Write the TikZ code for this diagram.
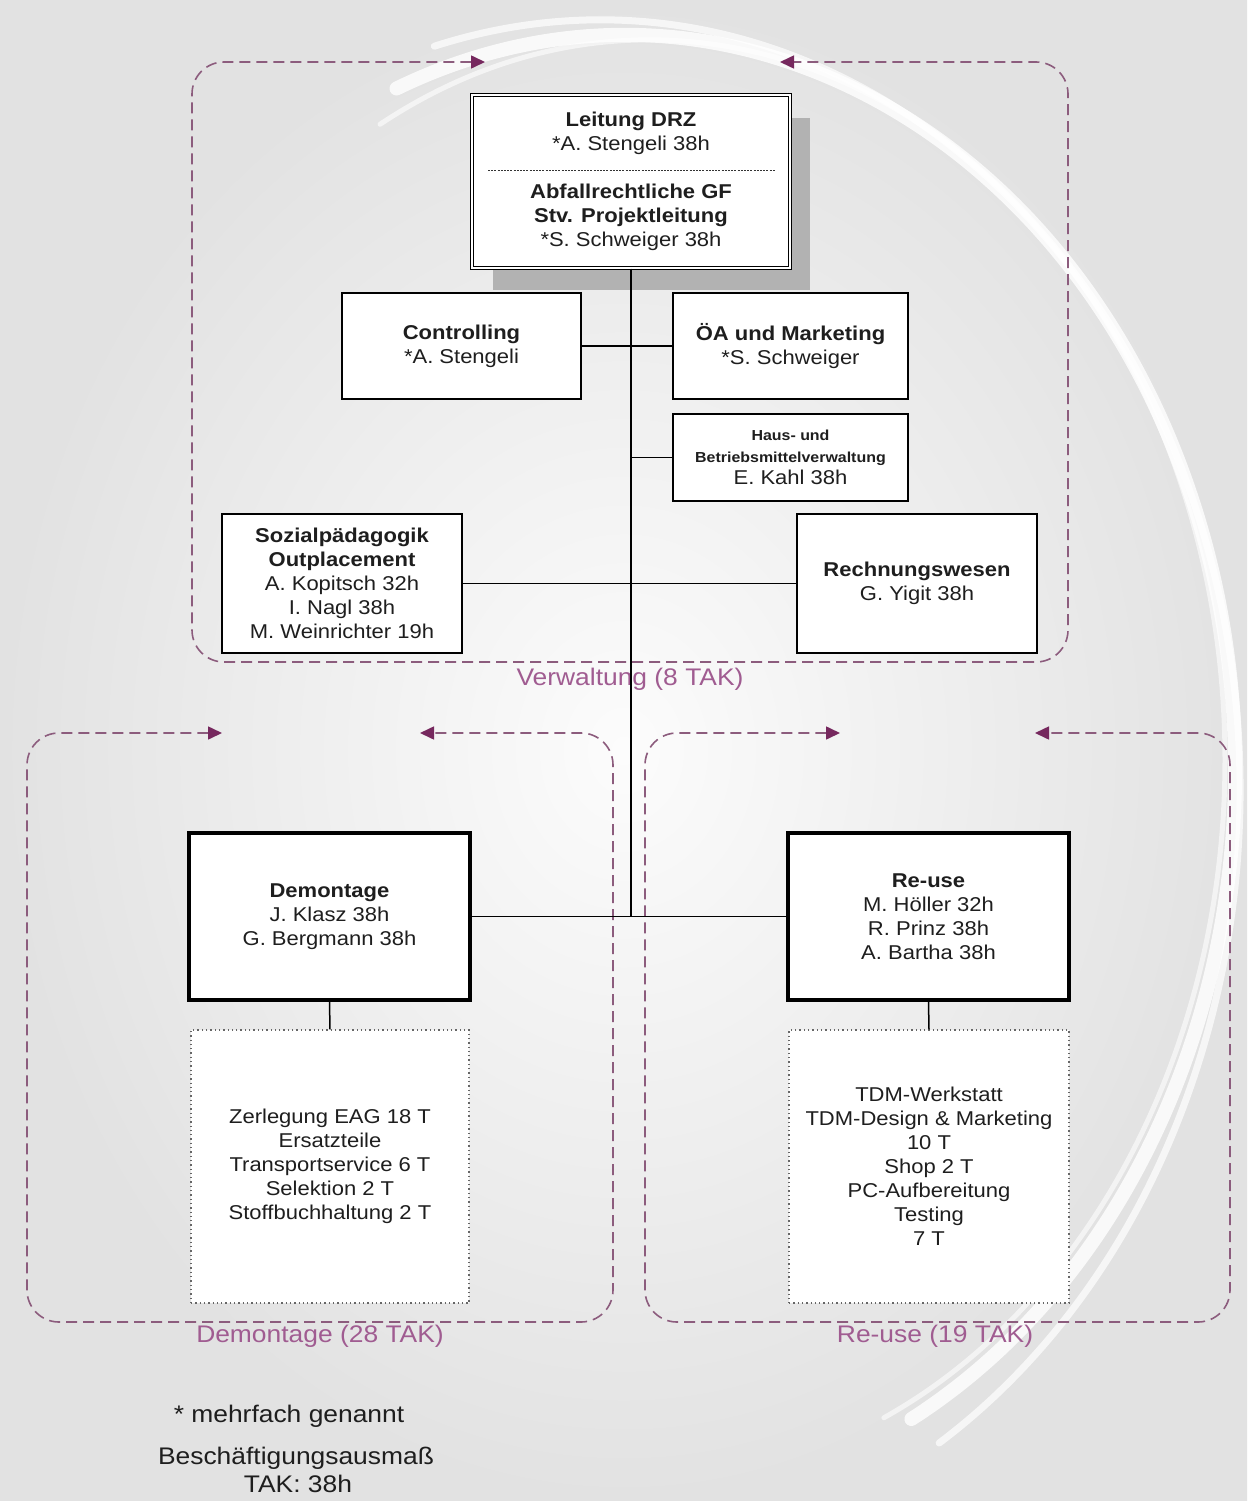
\documentclass[tikz,border=0pt]{standalone}
\usepackage{fontspec}
\setmainfont{Liberation Sans}[FakeStretch=1.1]
\usetikzlibrary{arrows.meta}
\definecolor{framec}{RGB}{140,92,125}
\definecolor{arrowc}{RGB}{118,40,94}
\definecolor{labc}{RGB}{160,92,145}
\definecolor{bgout}{RGB}{226,226,226}
\definecolor{bgin}{RGB}{252,252,252}
\definecolor{txt}{RGB}{30,30,30}
\begin{document}
\begin{tikzpicture}[x=1pt,y=-1pt,
  box/.style={draw=black, line width=1.4pt, fill=white, inner sep=0pt, align=center, text=txt,
    font=\fontsize{20}{24}\selectfont},
  thickbox/.style={box, line width=4pt},
  dotbox/.style={box, draw=black!60, line width=1.3pt, dash pattern=on 1.3pt off 3pt},
  frame/.style={draw=framec, line width=1.6pt, dash pattern=on 11pt off 6pt, rounded corners=32pt,
    {Triangle[length=14pt,width=13pt,color=arrowc,fill=arrowc]}-{Triangle[length=14pt,width=13pt,color=arrowc,fill=arrowc]}},
  link/.style={draw=black, line width=1.5pt},
  swirl/.style={draw=white, line cap=round},
  lab/.style={text=labc, font=\fontsize{24}{28}\selectfont, inner sep=0pt},
  note/.style={text=txt, font=\fontsize{24}{28}\selectfont, inner sep=0pt}]
\useasboundingbox (0,0) rectangle (1247,1501);
% background
\shade[inner color=bgin, outer color=bgout] (0,0) rectangle (1247,1501);
\draw[swirl, line width=14pt, opacity=0.8] (625,770) ++(-112:610 and 735) arc[start angle=-112, end angle=62, x radius=610, y radius=735];
\draw[swirl, line width=7pt, opacity=0.7] (600,790) ++(-105:640 and 770) arc[start angle=-105, end angle=58, x radius=640, y radius=770];
\draw[swirl, line width=5pt, opacity=0.6] (650,760) ++(-118:575 and 720) arc[start angle=-118, end angle=66, x radius=575, y radius=720];

% group frames
\draw[frame] (485,62) -- (192,62) -- (192,662) -- (1068,662) -- (1068,62) -- (780,62);
\draw[frame] (222,733) -- (27,733) -- (27,1322) -- (613,1322) -- (613,733) -- (420,733);
\draw[frame] (840,733) -- (645,733) -- (645,1322) -- (1230,1322) -- (1230,733) -- (1035,733);
\node[lab] (lverw) at (630,679) {Verwaltung (8 TAK)};
\node[lab] (ldem) at (320,1336) {Demontage (28 TAK)};
\node[lab] (lre) at (935,1336) {Re-use (19 TAK)};

% shadow of top box
\fill[black!30] (493,118) rectangle (810,290);

% boxes
\node[box, double, double distance=2.5pt, line width=1.2pt, minimum width=318, minimum height=173] (lead) at (631,181.5)
  {\textbf{Leitung DRZ}\\ *A. Stengeli 38h\\ \strut\\ \textbf{Abfallrechtliche GF}\\ \textbf{Stv. Projektleitung}\\ *S. Schweiger 38h};
\draw[black!80, line width=1pt, dash pattern=on 2pt off 1.2pt] (488,170) -- (775,170);

\node[box, minimum width=239, minimum height=106] (ctrl) at (461.5,346) {\textbf{Controlling}\\ *A. Stengeli};
\node[box, minimum width=235, minimum height=106] (oa) at (790.5,346) {\textbf{ÖA und Marketing}\\ *S. Schweiger};
\node[box, minimum width=235, minimum height=87, font=\fontsize{14.5}{22}\selectfont] (haus) at (790.5,457.5)
  {\textbf{Haus- und}\\ \textbf{Betriebsmittelverwaltung}\\ {\fontsize{20}{22}\selectfont E. Kahl 38h}};
\node[box, minimum width=240, minimum height=139] (soz) at (342,583.5)
  {\textbf{Sozialpädagogik}\\ \textbf{Outplacement}\\ A. Kopitsch 32h\\ I. Nagl 38h\\ M. Weinrichter 19h};
\node[box, minimum width=240, minimum height=139] (rech) at (917,583.5)
  {\textbf{Rechnungswesen}\\ G. Yigit 38h};
\node[thickbox, minimum width=281, minimum height=167] (dem) at (329.5,916.5)
  {\textbf{Demontage}\\ J. Klasz 38h\\ G. Bergmann 38h};
\node[thickbox, minimum width=281, minimum height=167] (reuse) at (928.5,916.5)
  {\textbf{Re-use}\\ M. Höller 32h\\ R. Prinz 38h\\ A. Bartha 38h};
\node[dotbox, minimum width=278, minimum height=273] (demsub) at (330,1166.5)
  {Zerlegung EAG 18 T\\ Ersatzteile\\ Transportservice 6 T\\ Selektion 2 T\\ Stoffbuchhaltung 2 T};
\node[dotbox, minimum width=280, minimum height=273] (resub) at (929,1166.5)
  {TDM-Werkstatt\\ TDM-Design \& Marketing\\ 10 T\\ Shop 2 T\\ PC-Aufbereitung\\ Testing\\ 7 T};

% connectors
\coordinate (j) at (lead.south |- dem.east);
\draw[link] (lead.south) -- (j);
\draw[link] (ctrl.east) -- (oa.west);
\draw[link] (haus.west) -- (haus.west -| lead.south);
\draw[link] (soz.east) -- (rech.west);
\draw[link] (dem.east) -- (reuse.west);
\draw[link] (dem.south) -- (demsub.north);
\draw[link] (reuse.south) -- (resub.north);

% notes
\node[note] (n1) at (289,1416) {* mehrfach genannt};
\node[note] (n2) at (296,1458) {Beschäftigungsausmaß};
\node[note] (n3) at (298,1484) {TAK: 38h};
\end{tikzpicture}
\end{document}
